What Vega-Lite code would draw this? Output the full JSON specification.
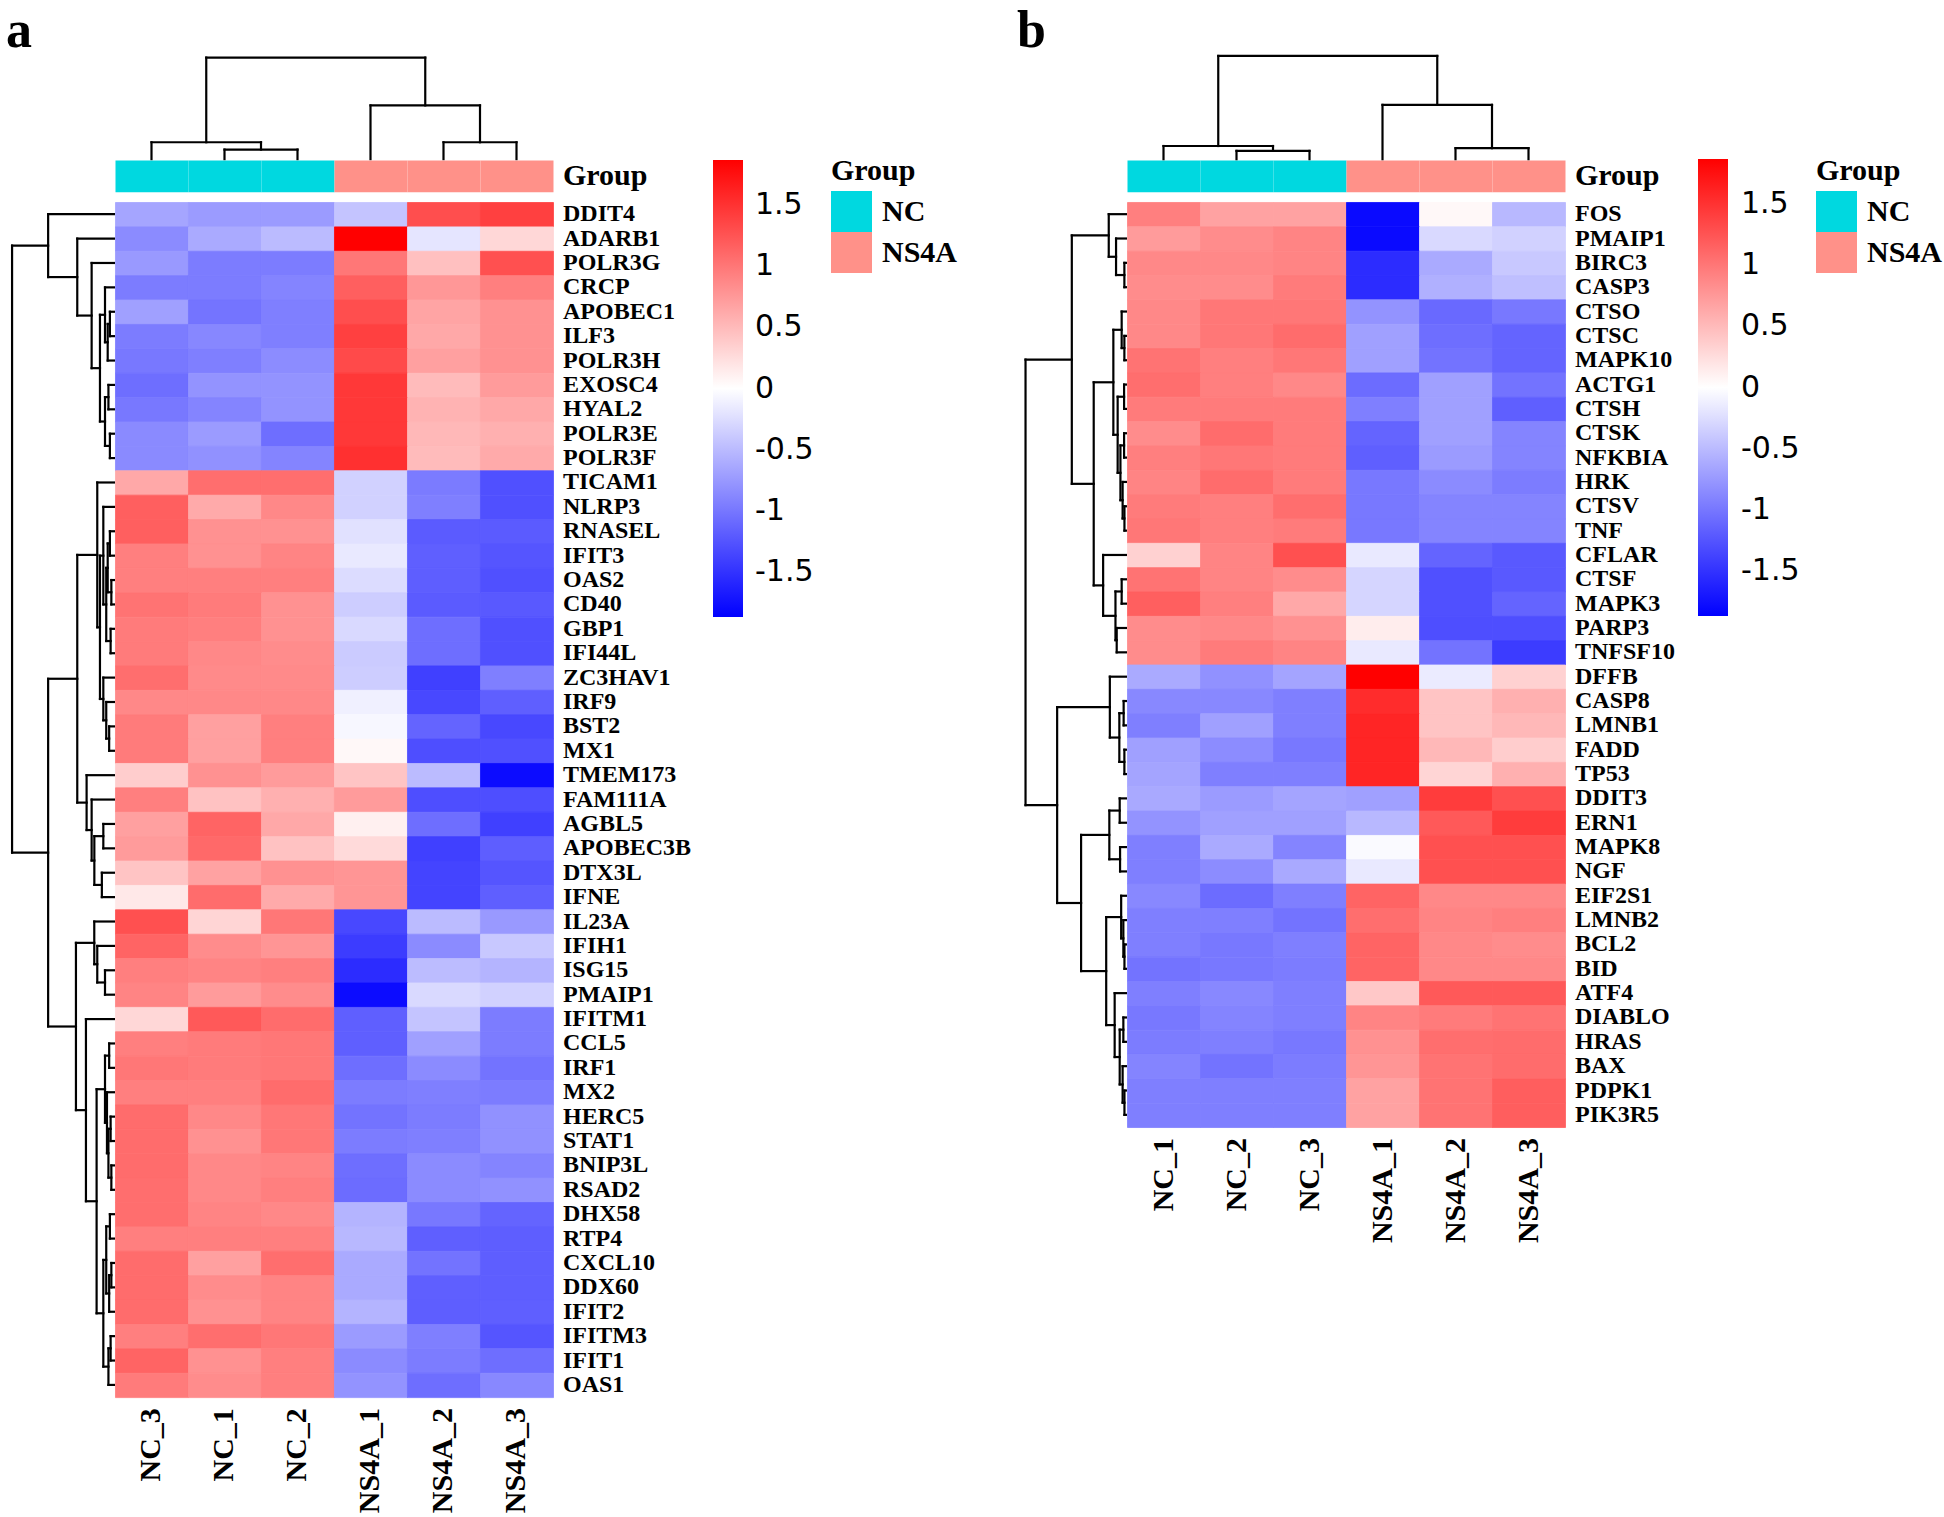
{
"$schema": "https://vega.github.io/schema/vega-lite/v6.json",
"background": "white",
"padding": 0,
"spacing": 0,
"bounds": "flush",
"config": {
  "view": {"stroke": null},
  "rule": {"color": "#000000", "strokeWidth": 2.2, "strokeCap": "square"},
  "text": {"font": "Liberation Serif", "fontWeight": "bold", "color": "#000000"}
},
"datasets": {
  "colsA": [
    {"sample": "NC_3", "c": 0, "grp": "NC"}, {"sample": "NC_1", "c": 1, "grp": "NC"}, {"sample": "NC_2", "c": 2, "grp": "NC"},
    {"sample": "NS4A_1", "c": 3, "grp": "NS4A"}, {"sample": "NS4A_2", "c": 4, "grp": "NS4A"}, {"sample": "NS4A_3", "c": 5, "grp": "NS4A"}
  ],
  "colsB": [
    {"sample": "NC_1", "c": 0, "grp": "NC"}, {"sample": "NC_2", "c": 1, "grp": "NC"}, {"sample": "NC_3", "c": 2, "grp": "NC"},
    {"sample": "NS4A_1", "c": 3, "grp": "NS4A"}, {"sample": "NS4A_2", "c": 4, "grp": "NS4A"}, {"sample": "NS4A_3", "c": 5, "grp": "NS4A"}
  ],
  "heatA": [
    {"g": "DDIT4", "r": 0, "NC_3": -0.66, "NC_1": -0.73, "NC_2": -0.73, "NS4A_1": -0.43, "NS4A_2": 1.30, "NS4A_3": 1.40},
    {"g": "ADARB1", "r": 1, "NC_3": -0.85, "NC_1": -0.62, "NC_2": -0.50, "NS4A_1": 1.87, "NS4A_2": -0.19, "NS4A_3": 0.29},
    {"g": "POLR3G", "r": 2, "NC_3": -0.75, "NC_1": -0.96, "NC_2": -0.96, "NS4A_1": 1.00, "NS4A_2": 0.46, "NS4A_3": 1.28},
    {"g": "CRCP", "r": 3, "NC_3": -0.96, "NC_1": -0.96, "NC_2": -0.90, "NS4A_1": 1.17, "NS4A_2": 0.76, "NS4A_3": 0.94},
    {"g": "APOBEC1", "r": 4, "NC_3": -0.70, "NC_1": -1.02, "NC_2": -0.94, "NS4A_1": 1.30, "NS4A_2": 0.67, "NS4A_3": 0.81},
    {"g": "ILF3", "r": 5, "NC_3": -0.96, "NC_1": -0.88, "NC_2": -0.94, "NS4A_1": 1.40, "NS4A_2": 0.64, "NS4A_3": 0.81},
    {"g": "POLR3H", "r": 6, "NC_3": -0.99, "NC_1": -0.94, "NC_2": -0.84, "NS4A_1": 1.33, "NS4A_2": 0.70, "NS4A_3": 0.81},
    {"g": "EXOSC4", "r": 7, "NC_3": -1.06, "NC_1": -0.79, "NC_2": -0.79, "NS4A_1": 1.46, "NS4A_2": 0.50, "NS4A_3": 0.73},
    {"g": "HYAL2", "r": 8, "NC_3": -0.99, "NC_1": -0.90, "NC_2": -0.79, "NS4A_1": 1.46, "NS4A_2": 0.56, "NS4A_3": 0.64},
    {"g": "POLR3E", "r": 9, "NC_3": -0.86, "NC_1": -0.73, "NC_2": -1.06, "NS4A_1": 1.46, "NS4A_2": 0.52, "NS4A_3": 0.58},
    {"g": "POLR3F", "r": 10, "NC_3": -0.86, "NC_1": -0.81, "NC_2": -0.90, "NS4A_1": 1.52, "NS4A_2": 0.50, "NS4A_3": 0.62},
    {"g": "TICAM1", "r": 11, "NC_3": 0.64, "NC_1": 1.06, "NC_2": 1.06, "NS4A_1": -0.34, "NS4A_2": -0.97, "NS4A_3": -1.28},
    {"g": "NLRP3", "r": 12, "NC_3": 1.17, "NC_1": 0.62, "NC_2": 0.87, "NS4A_1": -0.34, "NS4A_2": -0.94, "NS4A_3": -1.28},
    {"g": "RNASEL", "r": 13, "NC_3": 1.17, "NC_1": 0.81, "NC_2": 0.81, "NS4A_1": -0.22, "NS4A_2": -1.20, "NS4A_3": -1.20},
    {"g": "IFIT3", "r": 14, "NC_3": 0.94, "NC_1": 0.81, "NC_2": 0.90, "NS4A_1": -0.16, "NS4A_2": -1.17, "NS4A_3": -1.25},
    {"g": "OAS2", "r": 15, "NC_3": 0.94, "NC_1": 0.94, "NC_2": 0.94, "NS4A_1": -0.26, "NS4A_2": -1.18, "NS4A_3": -1.28},
    {"g": "CD40", "r": 16, "NC_3": 1.03, "NC_1": 0.97, "NC_2": 0.81, "NS4A_1": -0.37, "NS4A_2": -1.20, "NS4A_3": -1.22},
    {"g": "GBP1", "r": 17, "NC_3": 0.97, "NC_1": 0.94, "NC_2": 0.81, "NS4A_1": -0.28, "NS4A_2": -1.06, "NS4A_3": -1.28},
    {"g": "IFI44L", "r": 18, "NC_3": 0.97, "NC_1": 0.87, "NC_2": 0.84, "NS4A_1": -0.38, "NS4A_2": -1.06, "NS4A_3": -1.28},
    {"g": "ZC3HAV1", "r": 19, "NC_3": 1.06, "NC_1": 0.86, "NC_2": 0.86, "NS4A_1": -0.37, "NS4A_2": -1.40, "NS4A_3": -0.94},
    {"g": "IRF9", "r": 20, "NC_3": 0.87, "NC_1": 0.87, "NC_2": 0.87, "NS4A_1": -0.11, "NS4A_2": -1.34, "NS4A_3": -1.17},
    {"g": "BST2", "r": 21, "NC_3": 0.97, "NC_1": 0.70, "NC_2": 0.94, "NS4A_1": -0.06, "NS4A_2": -1.14, "NS4A_3": -1.34},
    {"g": "MX1", "r": 22, "NC_3": 0.97, "NC_1": 0.70, "NC_2": 0.94, "NS4A_1": 0.05, "NS4A_2": -1.30, "NS4A_3": -1.28},
    {"g": "TMEM173", "r": 23, "NC_3": 0.37, "NC_1": 0.81, "NC_2": 0.73, "NS4A_1": 0.43, "NS4A_2": -0.50, "NS4A_3": -1.78},
    {"g": "FAM111A", "r": 24, "NC_3": 0.94, "NC_1": 0.45, "NC_2": 0.58, "NS4A_1": 0.73, "NS4A_2": -1.30, "NS4A_3": -1.30},
    {"g": "AGBL5", "r": 25, "NC_3": 0.70, "NC_1": 1.14, "NC_2": 0.64, "NS4A_1": 0.11, "NS4A_2": -1.06, "NS4A_3": -1.40},
    {"g": "APOBEC3B", "r": 26, "NC_3": 0.73, "NC_1": 1.10, "NC_2": 0.45, "NS4A_1": 0.27, "NS4A_2": -1.40, "NS4A_3": -1.18},
    {"g": "DTX3L", "r": 27, "NC_3": 0.43, "NC_1": 0.68, "NC_2": 0.81, "NS4A_1": 0.78, "NS4A_2": -1.37, "NS4A_3": -1.25},
    {"g": "IFNE", "r": 28, "NC_3": 0.17, "NC_1": 1.08, "NC_2": 0.62, "NS4A_1": 0.78, "NS4A_2": -1.37, "NS4A_3": -1.17},
    {"g": "IL23A", "r": 29, "NC_3": 1.28, "NC_1": 0.31, "NC_2": 1.00, "NS4A_1": -1.34, "NS4A_2": -0.50, "NS4A_3": -0.75},
    {"g": "IFIH1", "r": 30, "NC_3": 1.14, "NC_1": 0.84, "NC_2": 0.78, "NS4A_1": -1.43, "NS4A_2": -0.85, "NS4A_3": -0.40},
    {"g": "ISG15", "r": 31, "NC_3": 0.94, "NC_1": 0.90, "NC_2": 0.94, "NS4A_1": -1.55, "NS4A_2": -0.49, "NS4A_3": -0.55},
    {"g": "PMAIP1", "r": 32, "NC_3": 0.90, "NC_1": 0.73, "NC_2": 0.84, "NS4A_1": -1.78, "NS4A_2": -0.28, "NS4A_3": -0.34},
    {"g": "IFITM1", "r": 33, "NC_3": 0.29, "NC_1": 1.22, "NC_2": 1.08, "NS4A_1": -1.17, "NS4A_2": -0.43, "NS4A_3": -0.96},
    {"g": "CCL5", "r": 34, "NC_3": 0.94, "NC_1": 0.97, "NC_2": 1.00, "NS4A_1": -1.17, "NS4A_2": -0.70, "NS4A_3": -0.96},
    {"g": "IRF1", "r": 35, "NC_3": 1.00, "NC_1": 0.97, "NC_2": 1.00, "NS4A_1": -1.06, "NS4A_2": -0.85, "NS4A_3": -1.03},
    {"g": "MX2", "r": 36, "NC_3": 0.94, "NC_1": 0.94, "NC_2": 1.08, "NS4A_1": -0.96, "NS4A_2": -0.94, "NS4A_3": -0.96},
    {"g": "HERC5", "r": 37, "NC_3": 1.08, "NC_1": 0.87, "NC_2": 1.00, "NS4A_1": -1.03, "NS4A_2": -0.96, "NS4A_3": -0.81},
    {"g": "STAT1", "r": 38, "NC_3": 1.08, "NC_1": 0.81, "NC_2": 1.00, "NS4A_1": -0.96, "NS4A_2": -0.94, "NS4A_3": -0.81},
    {"g": "BNIP3L", "r": 39, "NC_3": 1.08, "NC_1": 0.87, "NC_2": 0.90, "NS4A_1": -1.06, "NS4A_2": -0.85, "NS4A_3": -0.90},
    {"g": "RSAD2", "r": 40, "NC_3": 1.06, "NC_1": 0.87, "NC_2": 0.94, "NS4A_1": -1.08, "NS4A_2": -0.85, "NS4A_3": -0.81},
    {"g": "DHX58", "r": 41, "NC_3": 1.06, "NC_1": 0.90, "NC_2": 0.87, "NS4A_1": -0.55, "NS4A_2": -0.99, "NS4A_3": -1.14},
    {"g": "RTP4", "r": 42, "NC_3": 0.94, "NC_1": 0.94, "NC_2": 0.94, "NS4A_1": -0.52, "NS4A_2": -1.17, "NS4A_3": -1.18},
    {"g": "CXCL10", "r": 43, "NC_3": 1.08, "NC_1": 0.70, "NC_2": 1.06, "NS4A_1": -0.62, "NS4A_2": -1.03, "NS4A_3": -1.18},
    {"g": "DDX60", "r": 44, "NC_3": 1.08, "NC_1": 0.84, "NC_2": 0.90, "NS4A_1": -0.62, "NS4A_2": -1.17, "NS4A_3": -1.18},
    {"g": "IFIT2", "r": 45, "NC_3": 1.08, "NC_1": 0.81, "NC_2": 0.90, "NS4A_1": -0.55, "NS4A_2": -1.18, "NS4A_3": -1.17},
    {"g": "IFITM3", "r": 46, "NC_3": 0.94, "NC_1": 1.06, "NC_2": 1.00, "NS4A_1": -0.73, "NS4A_2": -0.94, "NS4A_3": -1.25},
    {"g": "IFIT1", "r": 47, "NC_3": 1.14, "NC_1": 0.81, "NC_2": 0.94, "NS4A_1": -0.85, "NS4A_2": -0.96, "NS4A_3": -1.06},
    {"g": "OAS1", "r": 48, "NC_3": 0.97, "NC_1": 0.84, "NC_2": 0.94, "NS4A_1": -0.79, "NS4A_2": -1.06, "NS4A_3": -0.87}
  ],
  "heatB": [
    {"g": "FOS", "r": 0, "NC_1": 0.94, "NC_2": 0.68, "NC_3": 0.68, "NS4A_1": -1.80, "NS4A_2": 0.05, "NS4A_3": -0.52},
    {"g": "PMAIP1", "r": 1, "NC_1": 0.73, "NC_2": 0.84, "NC_3": 0.90, "NS4A_1": -1.80, "NS4A_2": -0.28, "NS4A_3": -0.34},
    {"g": "BIRC3", "r": 2, "NC_1": 0.87, "NC_2": 0.87, "NC_3": 0.90, "NS4A_1": -1.55, "NS4A_2": -0.62, "NS4A_3": -0.40},
    {"g": "CASP3", "r": 3, "NC_1": 0.84, "NC_2": 0.84, "NC_3": 0.97, "NS4A_1": -1.55, "NS4A_2": -0.58, "NS4A_3": -0.47},
    {"g": "CTSO", "r": 4, "NC_1": 0.87, "NC_2": 1.00, "NC_3": 1.00, "NS4A_1": -0.79, "NS4A_2": -1.10, "NS4A_3": -0.99},
    {"g": "CTSC", "r": 5, "NC_1": 0.87, "NC_2": 1.00, "NC_3": 1.08, "NS4A_1": -0.70, "NS4A_2": -1.06, "NS4A_3": -1.14},
    {"g": "MAPK10", "r": 6, "NC_1": 1.03, "NC_2": 0.94, "NC_3": 1.00, "NS4A_1": -0.70, "NS4A_2": -1.03, "NS4A_3": -1.14},
    {"g": "ACTG1", "r": 7, "NC_1": 1.06, "NC_2": 0.94, "NC_3": 0.87, "NS4A_1": -1.08, "NS4A_2": -0.70, "NS4A_3": -1.03},
    {"g": "CTSH", "r": 8, "NC_1": 0.97, "NC_2": 0.97, "NC_3": 0.97, "NS4A_1": -0.94, "NS4A_2": -0.70, "NS4A_3": -1.17},
    {"g": "CTSK", "r": 9, "NC_1": 0.84, "NC_2": 1.08, "NC_3": 0.97, "NS4A_1": -1.14, "NS4A_2": -0.70, "NS4A_3": -0.90},
    {"g": "NFKBIA", "r": 10, "NC_1": 0.94, "NC_2": 1.00, "NC_3": 0.97, "NS4A_1": -1.17, "NS4A_2": -0.73, "NS4A_3": -0.90},
    {"g": "HRK", "r": 11, "NC_1": 0.90, "NC_2": 1.08, "NC_3": 0.97, "NS4A_1": -0.99, "NS4A_2": -0.85, "NS4A_3": -0.96},
    {"g": "CTSV", "r": 12, "NC_1": 0.97, "NC_2": 0.94, "NC_3": 1.06, "NS4A_1": -0.99, "NS4A_2": -0.90, "NS4A_3": -0.90},
    {"g": "TNF", "r": 13, "NC_1": 1.00, "NC_2": 0.94, "NC_3": 0.97, "NS4A_1": -0.99, "NS4A_2": -0.90, "NS4A_3": -0.90},
    {"g": "CFLAR", "r": 14, "NC_1": 0.34, "NC_2": 0.90, "NC_3": 1.28, "NS4A_1": -0.16, "NS4A_2": -1.14, "NS4A_3": -1.22},
    {"g": "CTSF", "r": 15, "NC_1": 1.03, "NC_2": 0.90, "NC_3": 0.84, "NS4A_1": -0.31, "NS4A_2": -1.28, "NS4A_3": -1.22},
    {"g": "MAPK3", "r": 16, "NC_1": 1.17, "NC_2": 0.94, "NC_3": 0.64, "NS4A_1": -0.31, "NS4A_2": -1.28, "NS4A_3": -1.14},
    {"g": "PARP3", "r": 17, "NC_1": 0.84, "NC_2": 0.87, "NC_3": 0.81, "NS4A_1": 0.13, "NS4A_2": -1.30, "NS4A_3": -1.30},
    {"g": "TNFSF10", "r": 18, "NC_1": 0.84, "NC_2": 0.97, "NC_3": 0.90, "NS4A_1": -0.16, "NS4A_2": -1.03, "NS4A_3": -1.43},
    {"g": "DFFB", "r": 19, "NC_1": -0.62, "NC_2": -0.81, "NC_3": -0.67, "NS4A_1": 1.87, "NS4A_2": -0.15, "NS4A_3": 0.34},
    {"g": "CASP8", "r": 20, "NC_1": -0.87, "NC_2": -0.87, "NC_3": -0.94, "NS4A_1": 1.55, "NS4A_2": 0.43, "NS4A_3": 0.58},
    {"g": "LMNB1", "r": 21, "NC_1": -0.94, "NC_2": -0.70, "NC_3": -0.94, "NS4A_1": 1.60, "NS4A_2": 0.43, "NS4A_3": 0.52},
    {"g": "FADD", "r": 22, "NC_1": -0.70, "NC_2": -0.84, "NC_3": -0.99, "NS4A_1": 1.60, "NS4A_2": 0.52, "NS4A_3": 0.37},
    {"g": "TP53", "r": 23, "NC_1": -0.67, "NC_2": -0.94, "NC_3": -0.94, "NS4A_1": 1.60, "NS4A_2": 0.31, "NS4A_3": 0.58},
    {"g": "DDIT3", "r": 24, "NC_1": -0.63, "NC_2": -0.73, "NC_3": -0.67, "NS4A_1": -0.70, "NS4A_2": 1.43, "NS4A_3": 1.28},
    {"g": "ERN1", "r": 25, "NC_1": -0.79, "NC_2": -0.70, "NC_3": -0.70, "NS4A_1": -0.52, "NS4A_2": 1.22, "NS4A_3": 1.43},
    {"g": "MAPK8", "r": 26, "NC_1": -0.94, "NC_2": -0.62, "NC_3": -0.90, "NS4A_1": -0.04, "NS4A_2": 1.28, "NS4A_3": 1.28},
    {"g": "NGF", "r": 27, "NC_1": -0.94, "NC_2": -0.84, "NC_3": -0.63, "NS4A_1": -0.16, "NS4A_2": 1.28, "NS4A_3": 1.28},
    {"g": "EIF2S1", "r": 28, "NC_1": -0.87, "NC_2": -1.08, "NC_3": -0.94, "NS4A_1": 1.14, "NS4A_2": 0.87, "NS4A_3": 0.87},
    {"g": "LMNB2", "r": 29, "NC_1": -0.94, "NC_2": -0.94, "NC_3": -1.03, "NS4A_1": 1.06, "NS4A_2": 0.90, "NS4A_3": 0.94},
    {"g": "BCL2", "r": 30, "NC_1": -0.94, "NC_2": -0.99, "NC_3": -0.94, "NS4A_1": 1.14, "NS4A_2": 0.87, "NS4A_3": 0.84},
    {"g": "BID", "r": 31, "NC_1": -1.03, "NC_2": -0.99, "NC_3": -0.96, "NS4A_1": 1.14, "NS4A_2": 0.87, "NS4A_3": 0.87},
    {"g": "ATF4", "r": 32, "NC_1": -0.94, "NC_2": -0.87, "NC_3": -0.94, "NS4A_1": 0.40, "NS4A_2": 1.22, "NS4A_3": 1.22},
    {"g": "DIABLO", "r": 33, "NC_1": -0.99, "NC_2": -0.90, "NC_3": -0.94, "NS4A_1": 0.90, "NS4A_2": 0.97, "NS4A_3": 1.03},
    {"g": "HRAS", "r": 34, "NC_1": -0.96, "NC_2": -0.94, "NC_3": -0.99, "NS4A_1": 0.81, "NS4A_2": 1.06, "NS4A_3": 1.08},
    {"g": "BAX", "r": 35, "NC_1": -0.90, "NC_2": -1.03, "NC_3": -0.96, "NS4A_1": 0.78, "NS4A_2": 1.03, "NS4A_3": 1.08},
    {"g": "PDPK1", "r": 36, "NC_1": -0.94, "NC_2": -0.94, "NC_3": -0.94, "NS4A_1": 0.68, "NS4A_2": 1.03, "NS4A_3": 1.18},
    {"g": "PIK3R5", "r": 37, "NC_1": -0.94, "NC_2": -0.94, "NC_3": -0.94, "NS4A_1": 0.68, "NS4A_2": 1.03, "NS4A_3": 1.18}
  ],
  "rdA": [
    {"p": -0.07, "y1": 4.5, "h1": -0.015, "y2": 5.5, "h2": -0.015},
    {"p": -0.1, "y1": 5.0, "h1": -0.07, "y2": 6.5, "h2": -0.015},
    {"p": -0.137, "y1": 3.5, "h1": -0.015, "y2": 5.75, "h2": -0.1},
    {"p": -0.09, "y1": 7.5, "h1": -0.015, "y2": 8.5, "h2": -0.015},
    {"p": -0.07, "y1": 9.5, "h1": -0.015, "y2": 10.5, "h2": -0.015},
    {"p": -0.137, "y1": 8.0, "h1": -0.09, "y2": 10.0, "h2": -0.07},
    {"p": -0.206, "y1": 4.625, "h1": -0.137, "y2": 9.0, "h2": -0.137},
    {"p": -0.32, "y1": 2.5, "h1": -0.015, "y2": 6.8125, "h2": -0.206},
    {"p": -0.517, "y1": 1.5, "h1": -0.015, "y2": 4.656, "h2": -0.32},
    {"p": -0.916, "y1": 0.5, "h1": -0.015, "y2": 3.078, "h2": -0.517},
    {"p": -0.07, "y1": 13.5, "h1": -0.015, "y2": 14.5, "h2": -0.015},
    {"p": -0.05, "y1": 15.5, "h1": -0.015, "y2": 16.5, "h2": -0.015},
    {"p": -0.06, "y1": 17.5, "h1": -0.015, "y2": 18.5, "h2": -0.015},
    {"p": -0.1, "y1": 14.0, "h1": -0.07, "y2": 16.0, "h2": -0.05},
    {"p": -0.12, "y1": 15.0, "h1": -0.1, "y2": 18.0, "h2": -0.06},
    {"p": -0.16, "y1": 12.5, "h1": -0.015, "y2": 16.5, "h2": -0.12},
    {"p": -0.08, "y1": 21.5, "h1": -0.015, "y2": 22.5, "h2": -0.015},
    {"p": -0.12, "y1": 20.5, "h1": -0.015, "y2": 22.0, "h2": -0.08},
    {"p": -0.16, "y1": 19.5, "h1": -0.015, "y2": 21.25, "h2": -0.12},
    {"p": -0.206, "y1": 14.5, "h1": -0.16, "y2": 20.375, "h2": -0.16},
    {"p": -0.243, "y1": 11.5, "h1": -0.015, "y2": 17.4375, "h2": -0.206},
    {"p": -0.16, "y1": 25.5, "h1": -0.015, "y2": 26.5, "h2": -0.015},
    {"p": -0.18, "y1": 27.5, "h1": -0.015, "y2": 28.5, "h2": -0.015},
    {"p": -0.283, "y1": 26.0, "h1": -0.16, "y2": 28.0, "h2": -0.18},
    {"p": -0.32, "y1": 24.5, "h1": -0.015, "y2": 27.0, "h2": -0.283},
    {"p": -0.389, "y1": 23.5, "h1": -0.015, "y2": 25.75, "h2": -0.32},
    {"p": -0.517, "y1": 14.469, "h1": -0.243, "y2": 24.625, "h2": -0.389},
    {"p": -0.137, "y1": 31.5, "h1": -0.015, "y2": 32.5, "h2": -0.015},
    {"p": -0.243, "y1": 30.5, "h1": -0.015, "y2": 32.0, "h2": -0.137},
    {"p": -0.284, "y1": 29.5, "h1": -0.015, "y2": 31.25, "h2": -0.243},
    {"p": -0.08, "y1": 34.5, "h1": -0.015, "y2": 35.5, "h2": -0.015},
    {"p": -0.06, "y1": 37.5, "h1": -0.015, "y2": 38.5, "h2": -0.015},
    {"p": -0.05, "y1": 39.5, "h1": -0.015, "y2": 40.5, "h2": -0.015},
    {"p": -0.09, "y1": 38.0, "h1": -0.06, "y2": 40.0, "h2": -0.05},
    {"p": -0.11, "y1": 36.5, "h1": -0.015, "y2": 39.0, "h2": -0.09},
    {"p": -0.137, "y1": 35.0, "h1": -0.08, "y2": 37.75, "h2": -0.11},
    {"p": -0.07, "y1": 41.5, "h1": -0.015, "y2": 42.5, "h2": -0.015},
    {"p": -0.05, "y1": 43.5, "h1": -0.015, "y2": 44.5, "h2": -0.015},
    {"p": -0.08, "y1": 44.0, "h1": -0.05, "y2": 45.5, "h2": -0.015},
    {"p": -0.12, "y1": 42.0, "h1": -0.07, "y2": 44.75, "h2": -0.08},
    {"p": -0.06, "y1": 46.5, "h1": -0.015, "y2": 47.5, "h2": -0.015},
    {"p": -0.09, "y1": 47.0, "h1": -0.06, "y2": 48.5, "h2": -0.015},
    {"p": -0.16, "y1": 43.375, "h1": -0.12, "y2": 47.75, "h2": -0.09},
    {"p": -0.252, "y1": 36.375, "h1": -0.137, "y2": 45.5625, "h2": -0.16},
    {"p": -0.398, "y1": 33.5, "h1": -0.015, "y2": 40.969, "h2": -0.252},
    {"p": -0.535, "y1": 30.375, "h1": -0.284, "y2": 37.234, "h2": -0.398},
    {"p": -0.916, "y1": 19.547, "h1": -0.517, "y2": 33.805, "h2": -0.535},
    {"p": -1.41, "y1": 1.789, "h1": -0.916, "y2": 26.676, "h2": -0.916}
  ],
  "rdB": [
    {"p": -0.036, "y1": 2.5, "h1": -0.015, "y2": 3.5, "h2": -0.015},
    {"p": -0.15, "y1": 1.5, "h1": -0.015, "y2": 3.0, "h2": -0.036},
    {"p": -0.25, "y1": 0.5, "h1": -0.015, "y2": 2.25, "h2": -0.15},
    {"p": -0.036, "y1": 5.5, "h1": -0.015, "y2": 6.5, "h2": -0.015},
    {"p": -0.073, "y1": 4.5, "h1": -0.015, "y2": 6.0, "h2": -0.036},
    {"p": -0.04, "y1": 7.5, "h1": -0.015, "y2": 8.5, "h2": -0.015},
    {"p": -0.04, "y1": 9.5, "h1": -0.015, "y2": 10.5, "h2": -0.015},
    {"p": -0.035, "y1": 12.5, "h1": -0.015, "y2": 13.5, "h2": -0.015},
    {"p": -0.06, "y1": 11.5, "h1": -0.015, "y2": 13.0, "h2": -0.035},
    {"p": -0.09, "y1": 10.0, "h1": -0.04, "y2": 12.25, "h2": -0.06},
    {"p": -0.128, "y1": 8.0, "h1": -0.04, "y2": 11.125, "h2": -0.09},
    {"p": -0.187, "y1": 5.25, "h1": -0.073, "y2": 9.5625, "h2": -0.128},
    {"p": -0.073, "y1": 15.5, "h1": -0.015, "y2": 16.5, "h2": -0.015},
    {"p": -0.141, "y1": 17.5, "h1": -0.015, "y2": 18.5, "h2": -0.015},
    {"p": -0.158, "y1": 16.0, "h1": -0.073, "y2": 18.0, "h2": -0.141},
    {"p": -0.327, "y1": 14.5, "h1": -0.015, "y2": 17.0, "h2": -0.158},
    {"p": -0.456, "y1": 7.406, "h1": -0.187, "y2": 15.75, "h2": -0.327},
    {"p": -0.756, "y1": 1.375, "h1": -0.25, "y2": 11.578, "h2": -0.456},
    {"p": -0.046, "y1": 20.5, "h1": -0.015, "y2": 21.5, "h2": -0.015},
    {"p": -0.036, "y1": 22.5, "h1": -0.015, "y2": 23.5, "h2": -0.015},
    {"p": -0.105, "y1": 21.0, "h1": -0.046, "y2": 23.0, "h2": -0.036},
    {"p": -0.235, "y1": 19.5, "h1": -0.015, "y2": 22.0, "h2": -0.105},
    {"p": -0.1, "y1": 24.5, "h1": -0.015, "y2": 25.5, "h2": -0.015},
    {"p": -0.095, "y1": 26.5, "h1": -0.015, "y2": 27.5, "h2": -0.015},
    {"p": -0.242, "y1": 25.0, "h1": -0.1, "y2": 27.0, "h2": -0.095},
    {"p": -0.035, "y1": 30.5, "h1": -0.015, "y2": 31.5, "h2": -0.015},
    {"p": -0.05, "y1": 29.5, "h1": -0.015, "y2": 31.0, "h2": -0.035},
    {"p": -0.08, "y1": 28.5, "h1": -0.015, "y2": 30.25, "h2": -0.05},
    {"p": -0.05, "y1": 33.5, "h1": -0.015, "y2": 34.5, "h2": -0.015},
    {"p": -0.035, "y1": 36.5, "h1": -0.015, "y2": 37.5, "h2": -0.015},
    {"p": -0.06, "y1": 35.5, "h1": -0.015, "y2": 37.0, "h2": -0.035},
    {"p": -0.1, "y1": 34.0, "h1": -0.05, "y2": 36.25, "h2": -0.06},
    {"p": -0.169, "y1": 32.5, "h1": -0.015, "y2": 35.125, "h2": -0.1},
    {"p": -0.285, "y1": 29.375, "h1": -0.08, "y2": 33.8125, "h2": -0.169},
    {"p": -0.629, "y1": 26.0, "h1": -0.242, "y2": 31.594, "h2": -0.285},
    {"p": -0.957, "y1": 20.75, "h1": -0.235, "y2": 28.797, "h2": -0.629},
    {"p": -1.39, "y1": 6.477, "h1": -0.756, "y2": 24.773, "h2": -0.957}
  ],
  "cdA": [
    {"p": -2.15, "x1": 1.5, "h1": -1.76, "x2": 2.5, "h2": -1.76},
    {"p": -2.45, "x1": 0.5, "h1": -1.76, "x2": 2.0, "h2": -2.15},
    {"p": -2.45, "x1": 4.5, "h1": -1.76, "x2": 5.5, "h2": -1.76},
    {"p": -3.96, "x1": 3.5, "h1": -1.76, "x2": 5.0, "h2": -2.45},
    {"p": -5.92, "x1": 1.25, "h1": -2.45, "x2": 4.25, "h2": -3.96}
  ],
  "cdB": [
    {"p": -2.1, "x1": 1.5, "h1": -1.76, "x2": 2.5, "h2": -1.76},
    {"p": -2.3, "x1": 0.5, "h1": -1.76, "x2": 2.0, "h2": -2.1},
    {"p": -2.21, "x1": 4.5, "h1": -1.76, "x2": 5.5, "h2": -1.76},
    {"p": -3.99, "x1": 3.5, "h1": -1.76, "x2": 5.0, "h2": -2.21},
    {"p": -6.0, "x1": 1.25, "h1": -2.3, "x2": 4.25, "h2": -3.99}
  ]
},
"hconcat": [
  {
    "width": 1000,
    "height": 1517,
    "layer": [
      {
        "data": {"name": "heatA"},
        "transform": [
          {"fold": ["NC_3", "NC_1", "NC_2", "NS4A_1", "NS4A_2", "NS4A_3"], "as": ["sample", "v"]},
          {"lookup": "sample", "from": {"data": {"name": "colsA"}, "key": "sample", "fields": ["c"]}}
        ],
        "mark": {"type": "rect", "strokeWidth": 0.8, "binSpacing": 0},
        "encoding": {
          "x": {"field": "c", "type": "quantitative", "bin": {"binned": true, "step": 1}, "scale": {"domain": [-1.57534, 12.12329], "nice": false, "zero": false}, "axis": null},
          "y": {"field": "r", "type": "quantitative", "bin": {"binned": true, "step": 1}, "scale": {"domain": [-8.282, 53.915], "reverse": true, "nice": false, "zero": false}, "axis": null},
          "color": {"field": "v", "type": "quantitative", "scale": {"domain": [-1.87, 0, 1.87], "range": ["#0000ff", "#ffffff", "#ff0000"], "interpolate": "rgb"},
            "legend": {"type": "gradient", "orient": "none", "legendX": 713, "legendY": 160, "direction": "vertical", "title": null, "padding": 0, "gradientLength": 457, "gradientThickness": 30, "gradientStrokeWidth": 0, "values": [-1.5, -1, -0.5, 0, 0.5, 1, 1.5], "labelExpr": "'' + datum.value", "labelFont": "DejaVu Sans", "labelFontSize": 30, "labelColor": "#000000", "labelOffset": 12, "labelOverlap": false}},
          "stroke": {"field": "v", "type": "quantitative", "scale": {"domain": [-1.8701, 0, 1.8701], "range": ["#0000ff", "#ffffff", "#ff0000"], "interpolate": "rgb"}, "legend": null}
        }
      },
      {
        "data": {"name": "colsA"},
        "mark": {"type": "rect", "binSpacing": 0},
        "encoding": {
          "x": {"field": "c", "type": "quantitative", "bin": {"binned": true, "step": 1}, "scale": {"domain": [-1.57534, 12.12329], "nice": false, "zero": false}, "axis": null},
          "y": {"datum": -1.7, "type": "quantitative", "scale": {"domain": [-8.282, 53.915], "reverse": true, "nice": false, "zero": false}, "axis": null},
          "y2": {"datum": -0.4},
          "fill": {"field": "grp", "type": "nominal", "scale": {"domain": ["NC", "NS4A"], "range": ["#00d8e0", "#ff9189"]},
            "legend": {"orient": "none", "legendX": 831, "legendY": 156, "title": "Group", "padding": 0, "titleFont": "Liberation Serif", "titleFontSize": 30, "titleFontWeight": "bold", "titleColor": "#000000", "titlePadding": 5, "symbolType": "square", "symbolSize": 1681, "symbolStrokeWidth": 0, "symbolOpacity": 1, "rowPadding": 0, "labelFont": "Liberation Serif", "labelFontSize": 30, "labelFontWeight": "bold", "labelColor": "#000000", "labelOffset": 10}}
        }
      },
      {
        "data": {"name": "rdA"},
        "mark": "rule",
        "encoding": {
          "x": {"field": "p", "type": "quantitative", "scale": {"domain": [-1.57534, 12.12329], "nice": false, "zero": false}, "axis": null},
          "y": {"field": "y1", "type": "quantitative", "scale": {"domain": [-8.282, 53.915], "reverse": true, "nice": false, "zero": false}, "axis": null},
          "y2": {"field": "y2"}
        }
      },
      {
        "data": {"name": "rdA"},
        "mark": "rule",
        "encoding": {
          "x": {"field": "h1", "type": "quantitative", "scale": {"domain": [-1.57534, 12.12329], "nice": false, "zero": false}, "axis": null},
          "x2": {"field": "p"},
          "y": {"field": "y1", "type": "quantitative", "scale": {"domain": [-8.282, 53.915], "reverse": true, "nice": false, "zero": false}, "axis": null}
        }
      },
      {
        "data": {"name": "rdA"},
        "mark": "rule",
        "encoding": {
          "x": {"field": "h2", "type": "quantitative", "scale": {"domain": [-1.57534, 12.12329], "nice": false, "zero": false}, "axis": null},
          "x2": {"field": "p"},
          "y": {"field": "y2", "type": "quantitative", "scale": {"domain": [-8.282, 53.915], "reverse": true, "nice": false, "zero": false}, "axis": null}
        }
      },
      {
        "data": {"name": "cdA"},
        "mark": "rule",
        "encoding": {
          "x": {"field": "x1", "type": "quantitative", "scale": {"domain": [-1.57534, 12.12329], "nice": false, "zero": false}, "axis": null},
          "x2": {"field": "x2"},
          "y": {"field": "p", "type": "quantitative", "scale": {"domain": [-8.282, 53.915], "reverse": true, "nice": false, "zero": false}, "axis": null}
        }
      },
      {
        "data": {"name": "cdA"},
        "mark": "rule",
        "encoding": {
          "x": {"field": "x1", "type": "quantitative", "scale": {"domain": [-1.57534, 12.12329], "nice": false, "zero": false}, "axis": null},
          "y": {"field": "h1", "type": "quantitative", "scale": {"domain": [-8.282, 53.915], "reverse": true, "nice": false, "zero": false}, "axis": null},
          "y2": {"field": "p"}
        }
      },
      {
        "data": {"name": "cdA"},
        "mark": "rule",
        "encoding": {
          "x": {"field": "x2", "type": "quantitative", "scale": {"domain": [-1.57534, 12.12329], "nice": false, "zero": false}, "axis": null},
          "y": {"field": "h2", "type": "quantitative", "scale": {"domain": [-8.282, 53.915], "reverse": true, "nice": false, "zero": false}, "axis": null},
          "y2": {"field": "p"}
        }
      },
      {
        "data": {"name": "heatA"},
        "mark": {"type": "text", "align": "left", "baseline": "middle", "dx": 10, "dy": 12.2, "fontSize": 24},
        "encoding": {
          "x": {"datum": 6, "type": "quantitative", "scale": {"domain": [-1.57534, 12.12329], "nice": false, "zero": false}, "axis": null},
          "y": {"field": "r", "type": "quantitative", "scale": {"domain": [-8.282, 53.915], "reverse": true, "nice": false, "zero": false}, "axis": null},
          "text": {"field": "g"}
        }
      },
      {
        "data": {"name": "colsA"},
        "mark": {"type": "text", "angle": 270, "align": "right", "baseline": "middle", "dx": -11, "dy": 36.5, "fontSize": 30},
        "encoding": {
          "x": {"field": "c", "type": "quantitative", "scale": {"domain": [-1.57534, 12.12329], "nice": false, "zero": false}, "axis": null},
          "y": {"datum": 49, "type": "quantitative", "scale": {"domain": [-8.282, 53.915], "reverse": true, "nice": false, "zero": false}, "axis": null},
          "text": {"field": "sample"}
        }
      },
      {
        "data": {"values": [{"t": "Group"}]},
        "mark": {"type": "text", "align": "left", "baseline": "middle", "dx": 10, "fontSize": 30},
        "encoding": {
          "x": {"datum": 6, "type": "quantitative", "scale": {"domain": [-1.57534, 12.12329], "nice": false, "zero": false}, "axis": null},
          "y": {"datum": -1.05, "type": "quantitative", "scale": {"domain": [-8.282, 53.915], "reverse": true, "nice": false, "zero": false}, "axis": null},
          "text": {"field": "t"}
        }
      },
      {
        "data": {"values": [{"t": "a"}]},
        "mark": {"type": "text", "align": "left", "baseline": "alphabetic", "fontSize": 52},
        "encoding": {
          "x": {"datum": -1.4932, "type": "quantitative", "scale": {"domain": [-1.57534, 12.12329], "nice": false, "zero": false}, "axis": null},
          "y": {"datum": -6.355, "type": "quantitative", "scale": {"domain": [-8.282, 53.915], "reverse": true, "nice": false, "zero": false}, "axis": null},
          "text": {"field": "t"}
        }
      }
    ]
  },
  {
    "width": 944,
    "height": 1517,
    "layer": [
      {
        "data": {"name": "heatB"},
        "transform": [
          {"fold": ["NC_1", "NC_2", "NC_3", "NS4A_1", "NS4A_2", "NS4A_3"], "as": ["sample", "v"]},
          {"lookup": "sample", "from": {"data": {"name": "colsB"}, "key": "sample", "fields": ["c"]}}
        ],
        "mark": {"type": "rect", "strokeWidth": 0.8, "binSpacing": 0},
        "encoding": {
          "x": {"field": "c", "type": "quantitative", "bin": {"binned": true, "step": 1}, "scale": {"domain": [-1.73973, 11.19178], "nice": false, "zero": false}, "axis": null},
          "y": {"field": "r", "type": "quantitative", "bin": {"binned": true, "step": 1}, "scale": {"domain": [-8.298, 54.02], "reverse": true, "nice": false, "zero": false}, "axis": null},
          "color": {"field": "v", "type": "quantitative", "scale": {"domain": [-1.87, 0, 1.87], "range": ["#0000ff", "#ffffff", "#ff0000"], "interpolate": "rgb"},
            "legend": {"type": "gradient", "orient": "none", "legendX": 698, "legendY": 159, "direction": "vertical", "title": null, "padding": 0, "gradientLength": 457, "gradientThickness": 30, "gradientStrokeWidth": 0, "values": [-1.5, -1, -0.5, 0, 0.5, 1, 1.5], "labelExpr": "'' + datum.value", "labelFont": "DejaVu Sans", "labelFontSize": 30, "labelColor": "#000000", "labelOffset": 13, "labelOverlap": false}},
          "stroke": {"field": "v", "type": "quantitative", "scale": {"domain": [-1.8701, 0, 1.8701], "range": ["#0000ff", "#ffffff", "#ff0000"], "interpolate": "rgb"}, "legend": null}
        }
      },
      {
        "data": {"name": "colsB"},
        "mark": {"type": "rect", "binSpacing": 0},
        "encoding": {
          "x": {"field": "c", "type": "quantitative", "bin": {"binned": true, "step": 1}, "scale": {"domain": [-1.73973, 11.19178], "nice": false, "zero": false}, "axis": null},
          "y": {"datum": -1.7, "type": "quantitative", "scale": {"domain": [-8.298, 54.02], "reverse": true, "nice": false, "zero": false}, "axis": null},
          "y2": {"datum": -0.4},
          "fill": {"field": "grp", "type": "nominal", "scale": {"domain": ["NC", "NS4A"], "range": ["#00d8e0", "#ff9189"]},
            "legend": {"orient": "none", "legendX": 816, "legendY": 156, "title": "Group", "padding": 0, "titleFont": "Liberation Serif", "titleFontSize": 30, "titleFontWeight": "bold", "titleColor": "#000000", "titlePadding": 5, "symbolType": "square", "symbolSize": 1681, "symbolStrokeWidth": 0, "symbolOpacity": 1, "rowPadding": 0, "labelFont": "Liberation Serif", "labelFontSize": 30, "labelFontWeight": "bold", "labelColor": "#000000", "labelOffset": 10}}
        }
      },
      {
        "data": {"name": "rdB"},
        "mark": "rule",
        "encoding": {
          "x": {"field": "p", "type": "quantitative", "scale": {"domain": [-1.73973, 11.19178], "nice": false, "zero": false}, "axis": null},
          "y": {"field": "y1", "type": "quantitative", "scale": {"domain": [-8.298, 54.02], "reverse": true, "nice": false, "zero": false}, "axis": null},
          "y2": {"field": "y2"}
        }
      },
      {
        "data": {"name": "rdB"},
        "mark": "rule",
        "encoding": {
          "x": {"field": "h1", "type": "quantitative", "scale": {"domain": [-1.73973, 11.19178], "nice": false, "zero": false}, "axis": null},
          "x2": {"field": "p"},
          "y": {"field": "y1", "type": "quantitative", "scale": {"domain": [-8.298, 54.02], "reverse": true, "nice": false, "zero": false}, "axis": null}
        }
      },
      {
        "data": {"name": "rdB"},
        "mark": "rule",
        "encoding": {
          "x": {"field": "h2", "type": "quantitative", "scale": {"domain": [-1.73973, 11.19178], "nice": false, "zero": false}, "axis": null},
          "x2": {"field": "p"},
          "y": {"field": "y2", "type": "quantitative", "scale": {"domain": [-8.298, 54.02], "reverse": true, "nice": false, "zero": false}, "axis": null}
        }
      },
      {
        "data": {"name": "cdB"},
        "mark": "rule",
        "encoding": {
          "x": {"field": "x1", "type": "quantitative", "scale": {"domain": [-1.73973, 11.19178], "nice": false, "zero": false}, "axis": null},
          "x2": {"field": "x2"},
          "y": {"field": "p", "type": "quantitative", "scale": {"domain": [-8.298, 54.02], "reverse": true, "nice": false, "zero": false}, "axis": null}
        }
      },
      {
        "data": {"name": "cdB"},
        "mark": "rule",
        "encoding": {
          "x": {"field": "x1", "type": "quantitative", "scale": {"domain": [-1.73973, 11.19178], "nice": false, "zero": false}, "axis": null},
          "y": {"field": "h1", "type": "quantitative", "scale": {"domain": [-8.298, 54.02], "reverse": true, "nice": false, "zero": false}, "axis": null},
          "y2": {"field": "p"}
        }
      },
      {
        "data": {"name": "cdB"},
        "mark": "rule",
        "encoding": {
          "x": {"field": "x2", "type": "quantitative", "scale": {"domain": [-1.73973, 11.19178], "nice": false, "zero": false}, "axis": null},
          "y": {"field": "h2", "type": "quantitative", "scale": {"domain": [-8.298, 54.02], "reverse": true, "nice": false, "zero": false}, "axis": null},
          "y2": {"field": "p"}
        }
      },
      {
        "data": {"name": "heatB"},
        "mark": {"type": "text", "align": "left", "baseline": "middle", "dx": 10, "dy": 12.17, "fontSize": 24},
        "encoding": {
          "x": {"datum": 6, "type": "quantitative", "scale": {"domain": [-1.73973, 11.19178], "nice": false, "zero": false}, "axis": null},
          "y": {"field": "r", "type": "quantitative", "scale": {"domain": [-8.298, 54.02], "reverse": true, "nice": false, "zero": false}, "axis": null},
          "text": {"field": "g"}
        }
      },
      {
        "data": {"name": "colsB"},
        "mark": {"type": "text", "angle": 270, "align": "right", "baseline": "middle", "dx": -11, "dy": 36.5, "fontSize": 30},
        "encoding": {
          "x": {"field": "c", "type": "quantitative", "scale": {"domain": [-1.73973, 11.19178], "nice": false, "zero": false}, "axis": null},
          "y": {"datum": 38, "type": "quantitative", "scale": {"domain": [-8.298, 54.02], "reverse": true, "nice": false, "zero": false}, "axis": null},
          "text": {"field": "sample"}
        }
      },
      {
        "data": {"values": [{"t": "Group"}]},
        "mark": {"type": "text", "align": "left", "baseline": "middle", "dx": 10, "fontSize": 30},
        "encoding": {
          "x": {"datum": 6, "type": "quantitative", "scale": {"domain": [-1.73973, 11.19178], "nice": false, "zero": false}, "axis": null},
          "y": {"datum": -1.05, "type": "quantitative", "scale": {"domain": [-8.298, 54.02], "reverse": true, "nice": false, "zero": false}, "axis": null},
          "text": {"field": "t"}
        }
      },
      {
        "data": {"values": [{"t": "b"}]},
        "mark": {"type": "text", "align": "left", "baseline": "alphabetic", "fontSize": 52},
        "encoding": {
          "x": {"datum": -1.5068, "type": "quantitative", "scale": {"domain": [-1.73973, 11.19178], "nice": false, "zero": false}, "axis": null},
          "y": {"datum": -6.368, "type": "quantitative", "scale": {"domain": [-8.298, 54.02], "reverse": true, "nice": false, "zero": false}, "axis": null},
          "text": {"field": "t"}
        }
      }
    ]
  }
],
"resolve": {
  "scale": {"x": "independent", "y": "independent", "color": "independent", "fill": "independent", "stroke": "independent"},
  "legend": {"color": "independent", "fill": "independent", "stroke": "independent"}
}
}
